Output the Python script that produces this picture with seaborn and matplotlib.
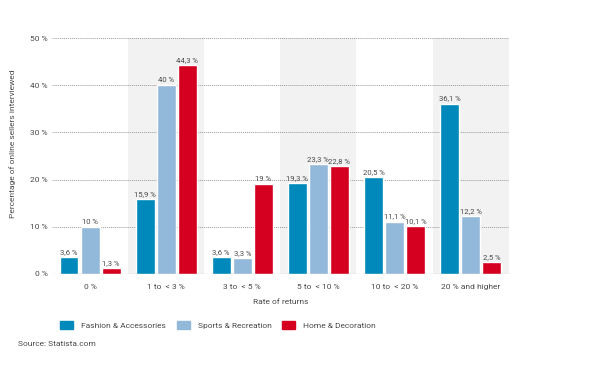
import pandas as pd
import seaborn as sns
import matplotlib.pyplot as plt

# data
categories = ['0 %', '1 to  < 3 %', '3 to  < 5 %', '5 to  < 10 %', '10 to  < 20 %', '20 % and higher']
fashion = [3.6, 15.9, 3.6, 19.3, 20.5, 36.1]
sports = [10, 40, 3.3, 23.3, 11.1, 12.2]
home = [1.3, 44.3, 19, 22.8, 10.1, 2.5]
series = ['Fashion & Accessories', 'Sports & Recreation', 'Home & Decoration']
colors = ['#0089ba', '#93b9da', '#d5001f']

df = pd.DataFrame({'Rate': categories * 3,
                   'Value': fashion + sports + home,
                   'Segment': [s for s in series for _ in categories]})

sns.set_theme(style='white')
plt.rcParams['font.family'] = ['Roboto', 'DejaVu Sans']
txt = '#4a4a4a'

fig = plt.figure(figsize=(6.01, 3.69), dpi=100)
ax = fig.add_axes([0.0865, 0.2575, 0.760, 0.6395])

# shaded bands behind every second group
for i in [1, 3, 5]:
    ax.axvspan(i - 0.5, i + 0.5, color='#f2f2f2', zorder=0, lw=0)

sns.barplot(data=df, x='Rate', y='Value', hue='Segment', palette=colors,
            width=0.83, gap=0.1, ax=ax, legend=False, zorder=3, saturation=1)

ax.set_ylim(0, 50)
ax.set_xlim(-0.5, 5.5)
ax.set_yticks(range(0, 51, 10))
ax.set_yticklabels([f'{v} %' for v in range(0, 51, 10)], fontsize=6, color=txt)
ax.tick_params(axis='x', labelsize=6, colors=txt, length=0, pad=7)
ax.tick_params(axis='y', length=0, pad=3)
for v in range(10, 51, 10):
    ax.axhline(v, color='#9a9a9a', lw=0.7, ls=(0, (1, 1)), zorder=1)
ax.axhline(0, color='#8a8a8a', lw=0.8, zorder=4)
for s in ax.spines.values():
    s.set_visible(False)

for cont in ax.containers:
    labels = [f'{v:g} %'.replace('.', ',') for v in cont.datavalues]
    ax.bar_label(cont, labels=labels, fontsize=5.5, color=txt, padding=1.5)

ax.set_xlabel('Rate of returns', fontsize=6, color=txt, labelpad=7)
ax.set_ylabel('Percentage of online sellers interviewed', fontsize=6, color=txt)
ax.yaxis.set_label_coords(-0.078, 0.55)

handles = [plt.Rectangle((0, 0), 1, 1, color=c) for c in colors]
fig.legend(handles, series, loc='center left', bbox_to_anchor=(0.088, 0.119),
           ncol=3, frameon=False, fontsize=6, handlelength=1.55, handleheight=1.0,
           columnspacing=1.3, handletextpad=0.95, labelcolor=txt)

fig.text(0.03, 0.062, 'Source: Statista.com', fontsize=6, color=txt)

fig.savefig('out.png', dpi=100)
